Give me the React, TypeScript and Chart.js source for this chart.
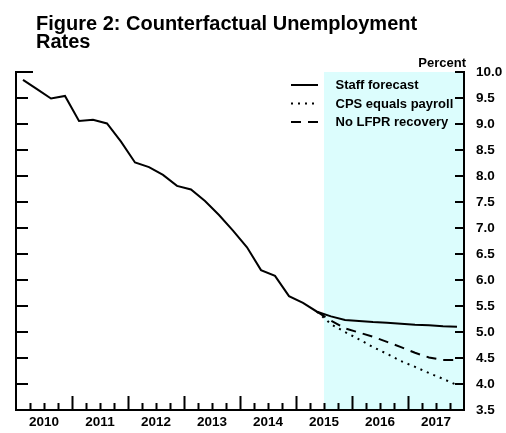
import React, { useEffect, useRef } from 'react';
import { Chart, registerables } from 'chart.js';

Chart.register(...registerables);

const FONT = '"Liberation Sans", Arial, Helvetica, sans-serif';

const titleLines = ['Figure 2: Counterfactual Unemployment', 'Rates'];
const unitLabel = 'Percent';

const quarters = [
  '2010Q1', '2010Q2', '2010Q3', '2010Q4',
  '2011Q1', '2011Q2', '2011Q3', '2011Q4',
  '2012Q1', '2012Q2', '2012Q3', '2012Q4',
  '2013Q1', '2013Q2', '2013Q3', '2013Q4',
  '2014Q1', '2014Q2', '2014Q3', '2014Q4',
  '2015Q1', '2015Q2', '2015Q3', '2015Q4',
  '2016Q1', '2016Q2', '2016Q3', '2016Q4',
  '2017Q1', '2017Q2', '2017Q3', '2017Q4',
];

const staffForecast = [
  9.85, 9.67, 9.49, 9.54,
  9.06, 9.08, 9.01, 8.66,
  8.26, 8.17, 8.02, 7.81,
  7.74, 7.52, 7.25, 6.95,
  6.63, 6.19, 6.08, 5.69,
  5.56, 5.39, 5.30, 5.23,
  5.21, 5.19, 5.18, 5.16,
  5.14, 5.13, 5.11, 5.10,
];

const forecastStart = '2015Q2';
const cpsEqualsPayroll = [5.39, 5.15, 5.0, 4.86, 4.71, 4.58, 4.44, 4.33, 4.21, 4.10, 3.98];
const noLfprRecovery = [5.39, 5.22, 5.07, 4.99, 4.91, 4.81, 4.71, 4.60, 4.51, 4.46, 4.46];

const shadeStart = '2015Q3';
const yearLabels = ['2010', '2011', '2012', '2013', '2014', '2015', '2016', '2017'];

const seriesNames = ['Staff forecast', 'CPS equals payroll', 'No LFPR recovery'];

const qYear = (q: string) => Number(q.slice(0, 4));
const qNum = (q: string) => Number(q.slice(5));
const qMid = (q: string) => qYear(q) + (qNum(q) - 0.5) / 4;
const qStartVal = (q: string) => qYear(q) + (qNum(q) - 1) / 4;

const toPoints = (qs: string[], vals: number[]) => vals.map((v, i) => ({ x: qMid(qs[i]), y: v }));

const decorPlugin = {
  id: 'decor',
  beforeDraw(chart: any) {
    const { ctx, chartArea: a, scales } = chart;
    const xs = scales.x.getPixelForValue(qStartVal(shadeStart));
    ctx.save();
    ctx.fillStyle = '#dcfdfd';
    ctx.fillRect(xs, a.top, a.right - xs, a.bottom - a.top);
    ctx.restore();
  },
  afterDraw(chart: any) {
    const { ctx, chartArea: a, scales } = chart;
    const x = scales.x;
    const y = scales.y;
    ctx.save();
    ctx.strokeStyle = '#000';
    ctx.lineWidth = 2;
    ctx.lineCap = 'butt';
    ctx.setLineDash([]);
    ctx.beginPath();
    // left axis line
    ctx.moveTo(a.left, a.top - 1);
    ctx.lineTo(a.left, a.bottom + 1);
    // y tick marks (inward, both sides)
    y.ticks.forEach((t: any) => {
      if (t.value <= y.min + 1e-9) return;
      const py = Math.round(y.getPixelForValue(t.value));
      const isTop = t.value >= y.max - 1e-9;
      ctx.moveTo(a.left, py);
      ctx.lineTo(a.left + (isTop ? 17 : 12), py);
      ctx.moveTo(a.right, py);
      ctx.lineTo(a.right - 9, py);
    });
    // x tick marks (quarters minor, years major)
    quarters.slice(1).forEach((q) => {
      const px = Math.round(x.getPixelForValue(qStartVal(q))) + 0.5;
      const len = qNum(q) === 1 ? 14 : 7;
      ctx.moveTo(px, a.bottom);
      ctx.lineTo(px, a.bottom - len);
    });
    ctx.stroke();

    // title
    ctx.fillStyle = '#000';
    ctx.textAlign = 'left';
    ctx.textBaseline = 'alphabetic';
    ctx.font = `bold 20px ${FONT}`;
    ctx.fillText(titleLines[0], 36, 30);
    ctx.fillText(titleLines[1], 36, 48);

    // unit label
    ctx.font = `bold 13px ${FONT}`;
    ctx.textAlign = 'right';
    ctx.fillText(unitLabel, 466, 66.5);

    // legend
    const rowsY = [85, 103.5, 122];
    const dashes = [[], [2, 5], [10, 7]];
    ctx.textAlign = 'left';
    ctx.textBaseline = 'middle';
    chart.data.datasets.forEach((ds: any, i: number) => {
      const ly = rowsY[i];
      ctx.setLineDash(dashes[i]);
      ctx.beginPath();
      ctx.moveTo(291, ly);
      ctx.lineTo(318, ly);
      ctx.stroke();
      ctx.setLineDash([]);
      ctx.fillText(ds.label, 335.5, ly + 0.5);
    });
    ctx.restore();
  },
};

export default function App() {
  const canvasRef = useRef<HTMLCanvasElement | null>(null);

  useEffect(() => {
    if (!canvasRef.current) return;
    Chart.defaults.font.family = FONT;
    const fIdx = quarters.indexOf(forecastStart);
    const fQuarters = quarters.slice(fIdx);
    const chart = new Chart(canvasRef.current, {
      type: 'line',
      data: {
        datasets: [
          {
            label: seriesNames[0],
            data: toPoints(quarters, staffForecast),
            borderColor: '#000',
            borderWidth: 2,
            pointRadius: 0,
            tension: 0,
            fill: false,
          },
          {
            label: seriesNames[1],
            data: toPoints(fQuarters, cpsEqualsPayroll),
            borderColor: '#000',
            borderWidth: 2,
            borderDash: [2, 5],
            pointRadius: 0,
            tension: 0,
            fill: false,
          },
          {
            label: seriesNames[2],
            data: toPoints(fQuarters, noLfprRecovery),
            borderColor: '#000',
            borderWidth: 2,
            borderDash: [10, 7],
            pointRadius: 0,
            tension: 0,
            fill: false,
          },
        ],
      },
      options: {
        responsive: false,
        animation: false,
        devicePixelRatio: 1,
        layout: { padding: { left: 16, top: 72, right: 0, bottom: 0 } },
        plugins: {
          legend: { display: false },
          title: { display: false },
          tooltip: { enabled: false },
        },
        scales: {
          x: {
            type: 'linear',
            position: 'bottom',
            min: 2010,
            max: 2018,
            afterBuildTicks: (s: any) => {
              s.ticks = yearLabels.map((l) => ({ value: Number(l) + 0.5 }));
            },
            afterFit: (s: any) => {
              s.height = 23;
            },
            ticks: {
              autoSkip: false,
              maxRotation: 0,
              minRotation: 0,
              padding: 4,
              color: '#000',
              font: { family: FONT, size: 13.5, weight: 'bold' },
              callback: (_v: any, i: number) => yearLabels[i],
            },
            grid: { display: false, drawTicks: false },
            border: { display: true, color: '#000', width: 2 },
          },
          y: {
            type: 'linear',
            position: 'right',
            min: 3.5,
            max: 10,
            afterFit: (s: any) => {
              s.width = 42;
            },
            ticks: {
              stepSize: 0.5,
              padding: 12,
              color: '#000',
              font: { family: FONT, size: 13.5, weight: 'bold' },
              callback: (v: any) => Number(v).toFixed(1),
            },
            grid: { display: false, drawTicks: false },
            border: { display: true, color: '#000', width: 2 },
          },
        },
      },
      plugins: [decorPlugin],
    } as any);
    return () => chart.destroy();
  }, []);

  return (
    <div style={{ position: 'fixed', left: 0, top: 0, width: 506, height: 433, background: '#fff' }}>
      <canvas ref={canvasRef} width={506} height={433} style={{ width: 506, height: 433, display: 'block' }} />
    </div>
  );
}
